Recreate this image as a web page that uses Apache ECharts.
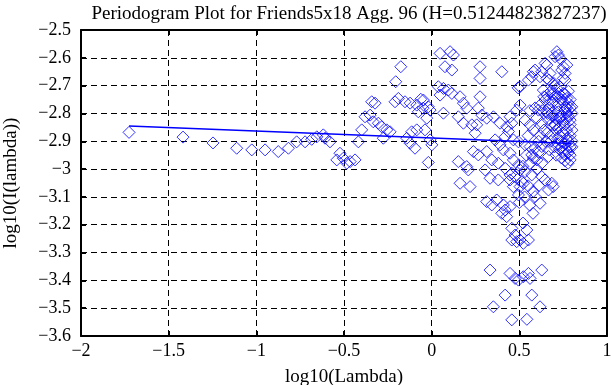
<!DOCTYPE html>
<html>
<head>
<meta charset="utf-8">
<script src="https://cdn.jsdelivr.net/npm/echarts@6/dist/echarts.min.js"></script>
<style>
html,body{margin:0;padding:0;background:#fff;}
#chart{width:611px;height:385px;}
</style>
</head>
<body>
<div id="chart"></div>
<script>
// Titles / labels
const titleText = 'Periodogram Plot for Friends5x18 Agg. 96 (H=0.51244823827237)';
const xName = 'log10(Lambda)';
const yName = 'log10(I(lambda))';

// Axis ticks
const xTicks = [-2, -1.5, -1, -0.5, 0, 0.5, 1];
const yTicks = [-3.6, -3.5, -3.4, -3.3, -3.2, -3.1, -3, -2.9, -2.8, -2.7, -2.6, -2.5];

// Periodogram points [log10(lambda), log10(I(lambda))], low frequencies
const lowFreq = [
[-1.726,-2.868],[-1.418,-2.885],[-1.247,-2.906],[-1.112,-2.925],[-1.026,-2.931],[-0.950,-2.931],
[-0.875,-2.937],[-0.817,-2.925],[-0.770,-2.902],[-0.722,-2.902],[-0.684,-2.893],[-0.655,-2.884],
[-0.618,-2.877],[-0.608,-2.889],[-0.580,-2.902],[-0.541,-2.967],[-0.523,-2.943],[-0.504,-2.961],
[-0.484,-2.979],[-0.465,-2.973],[-0.437,-2.967],[-0.418,-2.902],[-0.399,-2.859],[-0.380,-2.812],
[-0.351,-2.806],[-0.342,-2.758],[-0.333,-2.830],[-0.323,-2.763],[-0.304,-2.835],[-0.285,-2.848],
[-0.276,-2.889],[-0.256,-2.859],[-0.237,-2.866],[-0.209,-2.758],[-0.205,-2.686],[-0.190,-2.746],
[-0.176,-2.632],[-0.152,-2.758],[-0.142,-2.889],[-0.123,-2.763],[-0.123,-2.907],[-0.114,-2.866],
[-0.095,-2.925],[-0.085,-2.770],[-0.085,-2.859],[-0.076,-2.794],[-0.062,-2.749],[-0.049,-2.781],
[-0.047,-2.752],[-0.038,-2.859],[-0.028,-2.817],[-0.019,-2.776],[-0.019,-2.976],[-0.009,-2.895],
[-0.009,-2.788],[0.001,-2.913]
];

// middle frequencies
const midFreq = [
[0.038,-2.704],[0.048,-2.584],[0.048,-2.734],[0.067,-2.710],[0.067,-2.799],[0.076,-2.632],
[0.095,-2.716],[0.105,-2.578],[0.115,-2.644],[0.115,-2.728],[0.124,-2.590],[0.152,-2.812],
[0.152,-2.973],[0.162,-2.740],[0.162,-3.051],[0.181,-2.763],[0.181,-2.835],[0.200,-2.781],
[0.200,-2.991],[0.209,-3.003],[0.219,-3.063],[0.229,-2.841],[0.238,-2.937],[0.248,-2.871],
[0.257,-2.841],[0.266,-2.781],[0.266,-2.949],[0.276,-2.632],[0.276,-2.674],[0.276,-2.740],
[0.286,-2.806],[0.305,-3.003],[0.314,-2.817],[0.314,-2.937],[0.314,-3.117],[0.333,-3.033],
[0.333,-3.363],[0.343,-2.967],[0.343,-3.129],[0.352,-2.812],[0.352,-3.495],[0.362,-2.895],
[0.371,-3.111],[0.380,-2.979],[0.380,-3.039],[0.390,-2.835],[0.390,-2.913],[0.400,-2.650],
[0.400,-3.159],[0.409,-2.931],[0.409,-3.129],[0.419,-2.884],[0.419,-2.997],[0.419,-3.147],
[0.419,-3.453],[0.428,-2.848],[0.428,-3.171],[0.438,-2.865],[0.447,-2.812],[0.447,-2.943],
[0.447,-3.021],[0.447,-3.039],[0.447,-3.135],[0.447,-3.375],[0.457,-2.835],[0.457,-3.015],
[0.457,-3.213],[0.457,-3.255],[0.457,-3.542],[0.466,-2.895],[0.466,-2.967],[0.466,-3.063],
[0.476,-3.027],[0.476,-3.237],[0.476,-3.393],[0.485,-2.788],[0.485,-3.261],[0.493,-2.708],
[0.495,-2.902],[0.495,-2.985],[0.495,-3.093],[0.495,-3.399]
];

// high frequencies
const highFreq = [
[0.504,-2.704],[0.504,-2.770],[0.504,-3.003],[0.504,-3.063],[0.504,-3.255],[0.514,-3.045],
[0.521,-3.194],[0.523,-3.051],[0.523,-3.267],[0.523,-3.387],[0.533,-2.824],[0.533,-2.913],
[0.533,-3.009],[0.543,-3.219],[0.543,-3.540],[0.552,-2.680],[0.552,-3.255],[0.552,-3.375],
[0.561,-2.841],[0.561,-2.919],[0.561,-3.393],[0.571,-2.668],[0.571,-2.949],[0.571,-3.021],
[0.571,-3.453],[0.578,-3.159],[0.580,-2.650],[0.590,-2.644],[0.590,-2.925],[0.590,-3.099],
[0.600,-2.817],[0.600,-2.967],[0.609,-2.788],[0.618,-2.668],[0.618,-2.770],[0.618,-3.123],
[0.618,-3.495],[0.628,-2.650],[0.628,-2.835],[0.628,-2.919],[0.628,-2.979],[0.628,-3.027],
[0.628,-3.363],[0.637,-2.716],[0.647,-2.620],[0.647,-2.752],[0.647,-3.039],[0.657,-2.626],
[0.657,-2.674],[0.657,-2.734],[0.657,-2.794],[0.666,-2.824],[0.666,-2.955],[0.666,-3.075],
[0.669,-2.680],[0.675,-2.656],[0.685,-2.799],[0.685,-3.051],[0.693,-3.063],[0.697,-2.692],
[0.704,-2.596],[0.704,-2.841],[0.714,-2.578],[0.714,-2.710],[0.723,-2.590],[0.723,-2.728],
[0.723,-2.794],[0.732,-2.602],[0.732,-2.704],[0.732,-2.812],[0.742,-2.644],[0.751,-2.632],
[0.751,-2.674],[0.751,-2.728],[0.761,-2.656],[0.761,-2.680],[0.761,-2.776],[0.761,-2.788],
[0.771,-2.626],[0.771,-2.746],[0.771,-2.799],[0.778,-2.979],[0.780,-2.763],[0.790,-2.824],
[0.790,-2.967],[0.799,-2.776],
[0.68,-2.72],[0.70,-2.74],[0.74,-2.75],[0.78,-2.72],[0.69,-2.76],[0.72,-2.77],[0.75,-2.76],
[0.79,-2.75],[0.67,-2.78],[0.70,-2.79],[0.74,-2.81],[0.77,-2.82],[0.80,-2.80],[0.68,-2.84],
[0.71,-2.86],[0.73,-2.85],[0.75,-2.87],[0.77,-2.86],[0.79,-2.88],[0.80,-2.86],[0.69,-2.88],
[0.72,-2.89],[0.74,-2.90],[0.76,-2.91],[0.78,-2.90],[0.80,-2.92],[0.70,-2.92],[0.73,-2.93],
[0.75,-2.94],[0.77,-2.93],[0.79,-2.95],[0.71,-2.95],[0.74,-2.96],[0.68,-2.90],[0.66,-2.87],
[0.64,-2.86],[0.62,-2.88],[0.65,-2.90],[0.67,-2.93],[0.76,-2.97],[0.78,-2.94],[0.80,-2.90],
[0.79,-2.84],[0.76,-2.84],[0.73,-2.82],[0.71,-2.82],[0.69,-2.81],[0.66,-2.80],[0.63,-2.79],
[0.64,-2.74],[0.67,-2.75],[0.70,-2.70],[0.59,-2.78],[0.56,-2.79],[0.58,-2.86],[0.55,-2.88],
[0.61,-2.90],[0.54,-2.95],[0.58,-2.96],[0.61,-2.94],[0.56,-2.98],[0.52,-2.99],[0.60,-3.00],
[0.55,-3.06],[0.58,-3.08],[0.61,-3.06],[0.53,-3.10],[0.56,-3.13],[0.50,-3.12],[0.73,-2.88],
[0.75,-2.83],[0.77,-2.78],[0.78,-2.81],[0.72,-2.74],[0.69,-2.73],[0.76,-2.73],[0.79,-2.78],
[0.77,-2.89],[0.79,-2.92],[0.74,-2.92],[0.70,-2.84],[0.72,-2.91],[0.76,-2.95]
];

// Least-squares fit line endpoints
const fitX = [-1.726, 0.798];
const fitY = [-2.845, -2.908];

const points = lowFreq.concat(midFreq, highFreq);
const fitLine = fitX.map((x, i) => [x, fitY[i]]);

const SERIF = '"Liberation Serif", "Times New Roman", serif';
const fmt = v => {
  const r = Math.round(v * 10) / 10;
  return String(r).replace('-', '\u2212');
};

const chart = echarts.init(document.getElementById('chart'), null, {renderer: 'canvas'});
const baseAxis = {
  axisLine: {show: true, onZero: false, lineStyle: {color: '#000', width: 2}},
  axisTick: {show: true, inside: true, length: 5, lineStyle: {color: '#000', width: 2}},
};
chart.setOption({
  animation: false,
  backgroundColor: '#fff',
  title: {
    text: titleText, left: 344, textAlign: 'center', top: 0,
    textStyle: {fontFamily: SERIF, fontWeight: 'normal', fontSize: 19, color: '#000'}
  },
  grid: {left: 81, right: 4, top: 30, bottom: 49, containLabel: false, outerBoundsMode: 'none'},
  xAxis: [
    Object.assign({}, baseAxis, {
      type: 'value', min: -2, max: 1, interval: 0.5, position: 'bottom',
      name: xName, nameLocation: 'middle', nameGap: 32,
      nameTextStyle: {fontFamily: SERIF, fontSize: 19, color: '#000'},
      axisLabel: {fontFamily: SERIF, fontSize: 18, color: '#000', margin: 6, formatter: fmt},
      splitLine: {show: true, lineStyle: {color: '#000', type: [6, 4], width: 1}}
    }),
    Object.assign({}, baseAxis, {
      type: 'value', min: -2, max: 1, interval: 0.5, position: 'top',
      axisLabel: {show: false}, splitLine: {show: false}
    })
  ],
  yAxis: [
    Object.assign({}, baseAxis, {
      type: 'value', min: -3.6, max: -2.5, interval: 0.1, position: 'left',
      name: yName, nameLocation: 'middle', nameGap: 60, nameRotate: 90,
      nameTextStyle: {fontFamily: SERIF, fontSize: 19, color: '#000'},
      axisLabel: {fontFamily: SERIF, fontSize: 18, color: '#000', margin: 10, formatter: fmt},
      splitLine: {show: true, lineStyle: {color: '#000', type: [6, 4], width: 1}}
    }),
    Object.assign({}, baseAxis, {
      type: 'value', min: -3.6, max: -2.5, interval: 0.1, position: 'right',
      axisLabel: {show: false}, splitLine: {show: false}
    })
  ],
  series: [
    {
      type: 'scatter', data: points, symbol: 'diamond', symbolSize: [12, 12],
      itemStyle: {color: 'rgba(0,0,0,0)', borderColor: '#0000ff', borderWidth: 1},
      silent: true, z: 3
    },
    {
      type: 'line', data: fitLine, symbol: 'none',
      lineStyle: {color: '#0000ff', width: 1.5}, silent: true, z: 4
    }
  ]
});
</script>
</body>
</html>
